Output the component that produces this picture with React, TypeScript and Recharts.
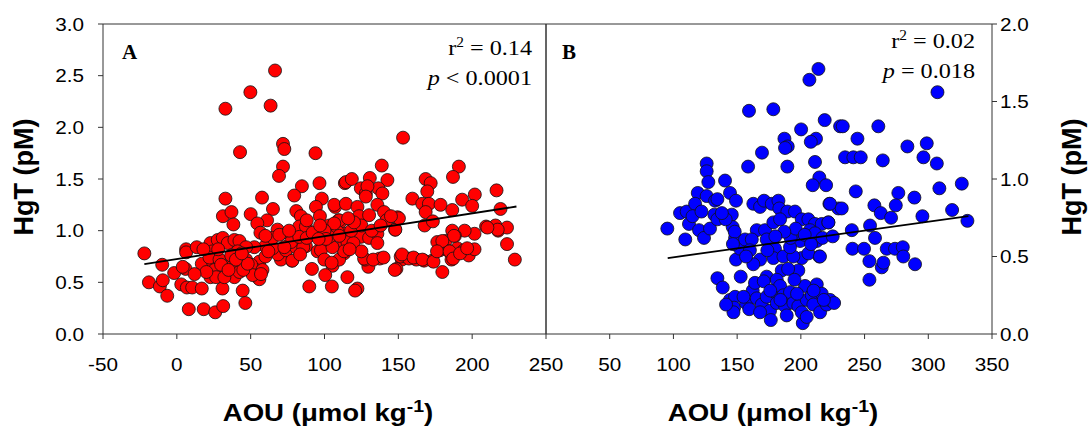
import { ScatterChart, Scatter, XAxis, YAxis, ReferenceLine } from 'recharts';

const SANS = '"Liberation Sans", Arial, sans-serif';
const SERIF = '"Liberation Serif", "Times New Roman", serif';

// panel A: AOU vs HgT (red)
const pointsA: [number, number][] = [
  [66.5, 2.55], [49.8, 2.34], [32.9, 2.18], [63.5, 2.21], [42.8, 1.76], [71.9, 1.84], [72.8, 1.79],
  [71.9, 1.62], [69.2, 1.53], [93.9, 1.75], [84.7, 1.43], [96.6, 1.46], [113.8, 1.46], [32.9, 1.31],
  [57.7, 1.32], [79.5, 1.34], [98.2, 1.31],
  [-22, 0.78], [-18.9, 0.5], [-11.5, 0.46], [-9.5, 0.52], [-9.9, 0.67], [-6.5, 0.37], [-1.8, 0.59],
  [3, 0.48], [5.9, 0.63], [4, 0.65], [6.8, 0.45], [10.4, 0.45], [16.9, 0.44], [8.1, 0.24], [18.2, 0.24],
  [26, 0.21], [31.4, 0.27], [30.9, 0.44], [44.6, 0.42], [46.4, 0.3], [6.3, 0.82], [6.3, 0.79], [13.5, 0.84],
  [16.9, 0.68], [22.8, 0.88], [24.3, 0.7], [22.8, 0.55], [31.2, 1.14], [37, 1.18], [38.3, 1.06], [50, 1.16],
  [65.1, 1.21], [61.1, 1.1], [54.5, 1.07], [56.6, 0.98], [68.2, 1.01], [74.8, 0.98], [80.9, 1.19], [84, 1.14],
  [82.9, 1.04], [94.2, 1.23], [96.9, 1.14], [107.2, 1.23], [109.5, 1.1], [114, 0.97], [113.3, 0.78],
  [105.4, 0.66], [100.5, 0.57], [89.7, 0.46], [105, 0.46], [91.5, 0.63], [78, 0.71], [70.5, 0.72],
  [68.5, 0.77], [73.9, 0.81], [80.7, 0.84], [87.4, 0.85], [95.3, 0.8], [103.2, 0.88], [64.9, 0.83],
  [59.9, 0.85], [55.9, 0.7], [53.6, 0.62], [55.4, 0.54], [24.3, 0.8], [27.7, 0.91], [31.1, 0.93],
  [34.5, 0.88], [39, 0.91], [42.4, 0.9], [46.9, 0.72], [34.5, 0.65], [39, 0.55], [37.4, 0.65], [25.5, 0.62],
  [22.1, 0.74], [28.9, 0.72], [42.4, 0.6], [50.3, 0.67], [52.5, 0.84], [46.9, 0.84], [41.2, 0.8],
  [36.8, 0.76], [30, 0.67], [26.6, 0.55], [55.9, 0.53], [51.4, 0.57], [32.2, 0.55], [111.1, 1.09],
  [113.3, 0.88], [103.2, 1.05], [87.4, 1.04], [91.9, 0.96], [97.6, 0.81], [109.9, 0.72], [85.6, 0.84],
  [64.9, 0.93], [77.3, 0.89], [82.9, 0.94], [72.8, 0.84], [69.4, 0.96],
  [153.2, 1.9], [138.8, 1.63], [191, 1.62], [187, 1.52], [114.5, 1.47], [118.5, 1.5], [130.7, 1.51],
  [142.6, 1.49], [168.5, 1.5], [171.9, 1.46], [216.5, 1.39], [201.8, 1.35], [124.6, 1.41], [128, 1.36],
  [136.5, 1.41], [139.2, 1.36], [169.6, 1.38], [159.5, 1.31], [129.1, 1.43], [166.2, 1.26], [170.7, 1.26],
  [168.5, 1.18], [178.6, 1.25], [186.5, 1.2], [193.2, 1.3], [200, 1.24], [219.2, 1.21], [209.4, 1.04],
  [215.8, 1.05], [217.6, 1.0], [223.6, 1.03], [223.6, 0.87], [228.9, 0.72], [201.6, 0.97], [194.9, 1.0],
  [188.3, 0.95], [186.5, 1.0], [176.4, 0.89], [182, 0.9], [178, 0.81], [184.3, 0.8], [189.9, 0.83],
  [186, 0.72], [194.4, 0.81], [197.7, 0.76], [201.6, 0.82], [179.8, 0.6], [173, 0.71], [162.2, 0.72],
  [167.4, 0.71], [152.3, 0.72], [148.7, 0.63], [151.6, 0.75], [157.2, 0.73], [149.4, 1.13], [147.8, 1.01],
  [167.8, 1.05], [173.4, 1.09], [137.4, 0.73], [129.7, 0.65], [127.5, 0.72], [115.5, 0.55], [122.3, 0.44],
  [120.7, 0.42], [106.6, 1.25], [114.5, 1.26], [122.3, 1.23], [128, 1.33], [135.8, 1.25], [140.3, 1.18],
  [109.9, 1.1], [123.4, 1.14], [130.2, 1.15], [108.8, 0.99], [115.5, 0.89], [124.6, 0.94], [130.2, 0.93],
  [135.8, 0.97], [135.8, 0.88], [113.3, 0.8], [126.8, 0.73], [105.4, 0.84], [103.2, 0.94], [119.6, 0.88],
  [106.6, 1.07], [148, 1.01], [150.4, 1.12], [152.5, 0.77], [147.6, 0.62], [160.3, 0.74], [166.3, 0.72],
  [173.8, 0.7], [217.3, 1.01], [210.3, 1.03], [187.7, 0.95], [179.8, 0.9], [176.2, 0.8], [184.7, 0.8],
  [187.1, 0.73], [191.8, 0.78], [196.6, 0.83],
  [78.2, 0.71], [83.5, 0.77], [88, 0.93], [92, 0.98], [99.9, 0.72], [104.8, 0.69], [60, 0.75], [58, 0.62],
  [57, 0.58], [45, 0.62], [48, 0.68], [40, 0.72], [35, 0.62], [20, 0.6], [12, 0.58], [28, 0.82], [18, 0.82],
  [44, 0.78], [60, 0.95], [62, 0.8], [76, 1.0], [118, 1.0], [125, 1.05], [132, 1.0], [142, 1.1], [138, 1.05],
  [145, 1.14], [120, 1.08], [116, 1.12], [110, 0.95], [100, 1.0], [97, 1.05], [101, 0.92], [96, 0.92],
  [88, 1.1], [125, 0.8], [133, 0.72], [140, 0.74], [117, 0.82],
];
const fitA: [number, number][] = [[-22, 0.677], [230, 1.234]];

// panel B: AOU vs HgT (blue)
const pointsB: [number, number][] = [
  [213.8, 1.71], [206.7, 1.64], [159.3, 1.44], [178.4, 1.45], [218.7, 1.38], [200.2, 1.32], [187.1, 1.26],
  [189.7, 1.21], [187.6, 1.2], [211.9, 1.26], [207.8, 1.24], [230.8, 1.34], [169.5, 1.17], [158.6, 1.08],
  [189.4, 1.08], [211.1, 1.11], [214.5, 1.01], [209.3, 0.96], [219.8, 0.96], [126.1, 1.1], [126.1, 1.05],
  [127.4, 0.98], [140.5, 0.99], [144.4, 0.91], [119.1, 0.91], [126.1, 0.89],
  [95.2, 0.68], [109.3, 0.61], [105.2, 0.78], [110.4, 0.79], [112.2, 0.71], [117, 0.84], [132.7, 0.86],
  [134.5, 0.87], [149.1, 0.86], [120.1, 0.67], [124, 0.62], [128.7, 0.68], [132.1, 0.77], [134.5, 0.74],
  [144.4, 0.76], [145.8, 0.77], [146.5, 0.69], [148.4, 0.62], [149.1, 0.48], [152.3, 0.55], [156.2, 0.61],
  [162.7, 0.84], [168, 0.82], [171.1, 0.86], [177.2, 0.84], [182.4, 0.86], [183.1, 0.81], [189.4, 0.79],
  [195.4, 0.79], [200.7, 0.74], [205.9, 0.74], [211.1, 0.71], [216.4, 0.71], [221.6, 0.72], [222.4, 0.84],
  [229.4, 0.81], [165.4, 0.67], [171.9, 0.67], [178.4, 0.72], [183.7, 0.74], [161.5, 0.61], [173.2, 0.61],
  [179.7, 0.55], [178.4, 0.49], [186.3, 0.5], [185, 0.41], [168, 0.48], [162.7, 0.45], [152.8, 0.37],
  [134.5, 0.36], [138.7, 0.3], [173.2, 0.37], [181.1, 0.35], [199.4, 0.6], [200.7, 0.49], [198, 0.41],
  [212.5, 0.6], [214.5, 0.5], [205.9, 0.52], [194.1, 0.5], [191.5, 0.56], [207.2, 0.67], [211.1, 0.65],
  [144.4, 0.22], [148.4, 0.24], [147.6, 0.17], [147.1, 0.14], [141.3, 0.19], [157, 0.2], [162.2, 0.28],
  [164, 0.33], [165.4, 0.23], [169.3, 0.19], [173.2, 0.24], [175.8, 0.15], [176.4, 0.09], [179.7, 0.27],
  [181.1, 0.2], [183.7, 0.31], [186.3, 0.25], [187.6, 0.18], [188.9, 0.12], [191.5, 0.27], [194.1, 0.2],
  [198, 0.18], [201.5, 0.07], [200.7, 0.14], [203.3, 0.31], [204.6, 0.22], [208.6, 0.25], [209.8, 0.19],
  [212.5, 0.32], [215.1, 0.14], [216.4, 0.26], [220.3, 0.19], [222.9, 0.22], [226.1, 0.2], [204.6, 0.11],
  [307.2, 1.56], [232.9, 1.34], [260.8, 1.34], [244.4, 1.26], [234.7, 1.14], [241.2, 1.14], [247, 1.14],
  [264.3, 1.12], [283.6, 1.21], [298.8, 1.23], [296.2, 1.14], [306.7, 1.1], [308.7, 0.94], [326.3, 0.97],
  [243.1, 0.92], [276.5, 0.91], [289.1, 0.88], [222.9, 0.84], [232.1, 0.81], [257.7, 0.83], [262.7, 0.78],
  [274.5, 0.83], [270.8, 0.75], [295.4, 0.76], [318.7, 0.8], [330.7, 0.73], [221.6, 0.72], [254.3, 0.7],
  [240, 0.67], [258.2, 0.62], [240.5, 0.55], [249.6, 0.55], [267.4, 0.55], [273.9, 0.55], [280, 0.56],
  [280.4, 0.5], [289.6, 0.45], [253.8, 0.47], [263.5, 0.43], [264.8, 0.46], [253.8, 0.35], [215, 0.5],
  [148.1, 0.66], [146.7, 0.58], [173.7, 0.54], [170.9, 0.34], [159.5, 0.16], [168, 0.14], [155, 0.24],
  [190, 0.42], [195, 0.35], [176, 0.28], [184, 0.22], [197, 0.26], [210, 0.28], [218, 0.22], [192, 0.62],
  [196, 0.68], [203, 0.64], [208, 0.58], [217, 0.62], [225, 0.63], [187, 0.66], [180, 0.63], [160, 0.54],
  [157, 0.5], [141, 0.74], [138, 0.78], [115, 0.76], [122, 0.79],
];
const fitB: [number, number][] = [[95.5, 0.49], [331.5, 0.76]];

const xTicksA = [-50, 0, 50, 100, 150, 200, 250];
const yTicksA = [0, 0.5, 1, 1.5, 2, 2.5, 3];
const xTicksB = [50, 100, 150, 200, 250, 300, 350];
const yTicksB = [0, 0.5, 1, 1.5, 2];

const toXY = (arr: [number, number][]) => arr.map(([x, y]) => ({ x, y }));

const AXIS = '#333';

function XTick(props: any) {
  const { x, y, payload } = props;
  return (
    <text transform={`translate(${x},${y + 30}) scale(1.15,1)`} textAnchor="middle"
      fontFamily={SANS} fontSize={18} fill="#000">{payload.value}</text>
  );
}

function YTickLeft(props: any) {
  const { x, y, payload } = props;
  return (
    <text transform={`translate(${x},${y + 6.5}) scale(1.15,1)`} textAnchor="end"
      fontFamily={SANS} fontSize={18} fill="#000">{Number(payload.value).toFixed(1)}</text>
  );
}

function YTickRight(props: any) {
  const { x, y, payload } = props;
  return (
    <text transform={`translate(${x},${y + 6.5}) scale(1.15,1)`} textAnchor="start"
      fontFamily={SANS} fontSize={18} fill="#000">{Number(payload.value).toFixed(1)}</text>
  );
}

const dot = (fill: string) => (p: any) => (
  <circle cx={p.cx} cy={p.cy} r={6.5} fill={fill} stroke="#111" strokeWidth={0.8} />
);
const noDot = () => <g />;

export default function App() {
  return (
    <div style={{ position: 'absolute', left: 0, top: 0, width: 1092, height: 431, background: '#fff' }}>
      <div style={{ position: 'absolute', left: 0, top: 0 }}>
        <ScatterChart width={590} height={431} margin={{ top: 24, right: 44, bottom: 57, left: 0 }}>
          <XAxis type="number" dataKey="x" domain={[-50, 250]} ticks={xTicksA} height={40}
            stroke={AXIS} tickSize={5} tickMargin={2} tick={<XTick />} allowDataOverflow />
          <YAxis type="number" dataKey="y" domain={[0, 3]} ticks={yTicksA} width={103}
            stroke={AXIS} tickSize={5} tickMargin={14} tick={<YTickLeft />} allowDataOverflow />
          <ReferenceLine y={3} stroke={AXIS} />
          <ReferenceLine x={250} stroke={AXIS} />
          <Scatter data={toXY(pointsA)} shape={dot('#ff0000')} isAnimationActive={false} />
          <Scatter data={toXY(fitA)} line={{ stroke: '#000', strokeWidth: 1.8 }} shape={noDot}
            isAnimationActive={false} />
        </ScatterChart>
      </div>
      <div style={{ position: 'absolute', left: 536, top: 0 }}>
        <ScatterChart width={556} height={431} margin={{ top: 24, right: 0, bottom: 57, left: 10 }}>
          <XAxis type="number" dataKey="x" domain={[0, 350]} ticks={xTicksB} height={40}
            stroke={AXIS} tickSize={5} tickMargin={2} tick={<XTick />} allowDataOverflow />
          <YAxis type="number" dataKey="y" domain={[0, 2]} ticks={yTicksB} width={100} orientation="right"
            stroke={AXIS} tickSize={5} tickMargin={3} tick={<YTickRight />} allowDataOverflow />
          <ReferenceLine y={2} stroke={AXIS} />
          <ReferenceLine x={0} stroke={AXIS} />
          <Scatter data={toXY(pointsB)} shape={dot('#0000ff')} isAnimationActive={false} />
          <Scatter data={toXY(fitB)} line={{ stroke: '#000', strokeWidth: 1.8 }} shape={noDot}
            isAnimationActive={false} />
        </ScatterChart>
      </div>
      <svg width={1092} height={431} style={{ position: 'absolute', left: 0, top: 0, pointerEvents: 'none' }}>
        {/* axis titles */}
        <text transform="translate(33,177) rotate(-90)" textAnchor="middle" fontFamily={SANS}
          fontWeight="bold" fontSize={27} fill="#000">HgT (pM)</text>
        <text transform="translate(1081,177) rotate(-90)" textAnchor="middle" fontFamily={SANS}
          fontWeight="bold" fontSize={27} fill="#000">HgT (pM)</text>
        <text transform="translate(328,421) scale(1.15,1)" textAnchor="middle" fontFamily={SANS}
          fontWeight="bold" fontSize={24} fill="#000">
          AOU (μmol kg<tspan dy={-9} fontSize={17}>-1</tspan><tspan dy={9}>)</tspan>
        </text>
        <text transform="translate(773,421) scale(1.15,1)" textAnchor="middle" fontFamily={SANS}
          fontWeight="bold" fontSize={24} fill="#000">
          AOU (μmol kg<tspan dy={-9} fontSize={17}>-1</tspan><tspan dy={9}>)</tspan>
        </text>
        {/* panel labels */}
        <text x={122} y={59} fontFamily={SERIF} fontWeight="bold" fontSize={21} fill="#000">A</text>
        <text x={562} y={59} fontFamily={SERIF} fontWeight="bold" fontSize={21} fill="#000">B</text>
        {/* stats */}
        <text transform="translate(532,55) scale(1.1,1)" textAnchor="end" fontFamily={SERIF} fontSize={22} fill="#000">
          r<tspan dy={-8} fontSize={14}>2</tspan><tspan dy={8}> = 0.14</tspan>
        </text>
        <text transform="translate(532,85) scale(1.1,1)" textAnchor="end" fontFamily={SERIF} fontSize={22} fill="#000">
          <tspan fontStyle="italic">p</tspan> &lt; 0.0001
        </text>
        <text transform="translate(975,48) scale(1.1,1)" textAnchor="end" fontFamily={SERIF} fontSize={22} fill="#000">
          r<tspan dy={-8} fontSize={14}>2</tspan><tspan dy={8}> = 0.02</tspan>
        </text>
        <text transform="translate(975,78) scale(1.1,1)" textAnchor="end" fontFamily={SERIF} fontSize={22} fill="#000">
          <tspan fontStyle="italic">p</tspan> = 0.018
        </text>
      </svg>
    </div>
  );
}
